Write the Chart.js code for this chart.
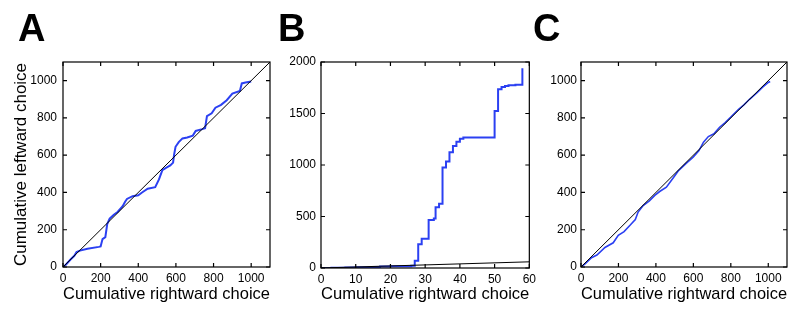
<!DOCTYPE html>
<html><head><meta charset="utf-8">
<script src="https://cdn.jsdelivr.net/npm/chart.js@4"></script>
<style>
html,body{margin:0;padding:0;background:#fff;}
body{width:800px;height:316px;position:relative;overflow:hidden;font-family:"Liberation Sans",Arial,sans-serif;}
.wrap{position:absolute;top:0;height:316px;}
.lbl{position:absolute;top:9px;font-weight:bold;font-size:38px;line-height:38px;color:#000;}
canvas{display:block;}
</style></head><body>
<div class="wrap" style="left:0;width:280px"><canvas id="cA" width="280" height="316"></canvas></div>
<div class="wrap" style="left:270px;width:270px"><canvas id="cB" width="270" height="316"></canvas></div>
<div class="wrap" style="left:530px;width:270px"><canvas id="cC" width="270" height="316"></canvas></div>
<div class="lbl" id="lA" style="left:18px"></div>
<div class="lbl" id="lB" style="left:278px"></div>
<div class="lbl" id="lC" style="left:533px"></div>
<script>
// ---- text ----
const panelLetters = ['A', 'B', 'C'];
const xTitle = 'Cumulative rightward choice';
const yTitle = 'Cumulative leftward choice';

// ---- tick labels ----
const ticksA = [0, 200, 400, 600, 800, 1000];
const ticksBx = [0, 10, 20, 30, 40, 50, 60];
const ticksBy = [0, 500, 1000, 1500, 2000];
const ticksC = [0, 200, 400, 600, 800, 1000];

// ---- panel A ----
const aRight = [0,15,40,60,72,90,130,190,200,210,225,235,248,270,290,317,330,340,370,400,420,450,490,510,528,545,570,585,590,598,615,635,660,690,705,740,755,765,790,810,840,870,900,940,950,970,1000];
const aLeft  = [0,12,40,60,80,88,98,108,110,150,160,230,260,280,295,326,350,365,380,385,400,420,428,470,520,530,545,560,600,645,670,690,695,705,730,740,745,810,825,855,870,895,930,945,985,990,995];
const aDiagX = [0, 1100];
const aDiagY = [0, 1100];

// ---- panel B ----
const bRight = [0,3,7,10,14,17,20,23,26,27,28,29,31,32.5,33,34,35,36,37,38,39,40,41,50,51,52,53,54,56,58,58];
const bLeft  = [0,2,6,8,10,14,16,18,22,70,230,285,465,480,590,625,975,1035,1125,1185,1225,1255,1268,1525,1735,1758,1768,1775,1780,1785,1940];
const bDiagX = [0, 60];
const bDiagY = [0, 60];

// ---- panel C ----
const cRight = [0,20,56,85,128,172,199,230,263,290,305,332,365,394,420,456,494,519,560,600,630,654,680,710,740,770,800,840,870,900,940,970,1000,1010];
const cLeft  = [0,15,50,64,105,130,170,190,225,255,295,330,355,384,405,428,480,515,555,590,625,670,700,715,750,775,805,845,870,900,935,965,990,995];
const cDiagX = [0, 1100];
const cDiagY = [0, 1100];

const FONT = '"Liberation Sans", Arial, Helvetica, sans-serif';
const BLUE = '#2b40f2';

['lA','lB','lC'].forEach((id,i)=>{document.getElementById(id).textContent = panelLetters[i];});

const pts = (xs, ys) => xs.map((x,i)=>({x:x, y:ys[i]}));

const framePlugin = {
  id: 'frame',
  afterDatasetsDraw(chart) {
    const {ctx, chartArea:{left,right,top,bottom}, scales:{x,y}} = chart;
    ctx.save();
    ctx.strokeStyle = '#000';
    ctx.lineWidth = 1.2;
    ctx.strokeRect(left, top, right-left, bottom-top);
    const L = 4;
    ctx.beginPath();
    x.ticks.forEach(t=>{
      const px = x.getPixelForValue(t.value);
      ctx.moveTo(px, bottom); ctx.lineTo(px, bottom-L);
      ctx.moveTo(px, top); ctx.lineTo(px, top+L);
    });
    y.ticks.forEach(t=>{
      const py = y.getPixelForValue(t.value);
      ctx.moveTo(left, py); ctx.lineTo(left+L, py);
      ctx.moveTo(right, py); ctx.lineTo(right-L, py);
    });
    ctx.stroke();
    ctx.restore();
  }
};

function makeChart(id, datasets, o) {
  return new Chart(document.getElementById(id), {
    type: 'scatter',
    data: {datasets},
    options: {
      responsive: false,
      animation: false,
      events: [],
      layout: {padding: {top: 62, right: o.padR, left: 0, bottom: 0}},
      plugins: {legend: {display: false}, tooltip: {enabled: false}},
      scales: {
        x: {
          type: 'linear', min: 0, max: o.xMax,
          afterBuildTicks: s => { s.ticks = o.xTicks.map(v=>({value:v})); },
          afterFit: s => { s.height = o.xH; },
          grid: {display: false, drawTicks: false},
          border: {display: false},
          ticks: {padding: 4, color: '#000', font: {size: 12, family: FONT}, maxRotation: 0, autoSkip: false, callback: v => String(v)},
          title: {display: true, text: xTitle, color: '#000', font: {size: 17, family: FONT}, padding: {top: 0, bottom: 11}}
        },
        y: {
          type: 'linear', min: 0, max: o.yMax,
          afterBuildTicks: s => { s.ticks = o.yTicks.map(v=>({value:v})); },
          afterFit: s => { s.width = o.yW; },
          grid: {display: false, drawTicks: false},
          border: {display: false},
          ticks: {padding: o.yPad, color: '#000', font: {size: 12, family: FONT}, autoSkip: false, callback: v => String(v)},
          title: {display: o.yTitle, text: yTitle, color: '#000', font: {size: 17, family: FONT}, padding: {top: 11, bottom: 0}}
        }
      }
    },
    plugins: [framePlugin]
  });
}

const blackDs = (xs, ys) => ({data: pts(xs, ys), showLine: true, borderColor: '#000', borderWidth: 1, pointRadius: 0});
const blueDs = (xs, ys, w, stepped) => ({data: pts(xs, ys), showLine: true, borderColor: BLUE, borderWidth: w, pointRadius: 0, stepped: stepped});

makeChart('cA', [blackDs(aDiagX, aDiagY), blueDs(aRight, aLeft, 2, false)],
  {xMax: 1100, yMax: 1100, xTicks: ticksA, yTicks: ticksA, padR: 10, xH: 49, yW: 63, yPad: 6, yTitle: true});
makeChart('cB', [blackDs(bDiagX, bDiagY), blueDs(bRight, bLeft, 2, 'before')],
  {xMax: 60, yMax: 2000, xTicks: ticksBx, yTicks: ticksBy, padR: 10, xH: 48, yW: 51, yPad: 5, yTitle: false});
makeChart('cC', [blackDs(cDiagX, cDiagY), blueDs(cRight, cLeft, 1.6, false)],
  {xMax: 1100, yMax: 1100, xTicks: ticksC, yTicks: ticksC, padR: 13, xH: 49, yW: 51, yPad: 4, yTitle: false});
</script>
</body></html>
